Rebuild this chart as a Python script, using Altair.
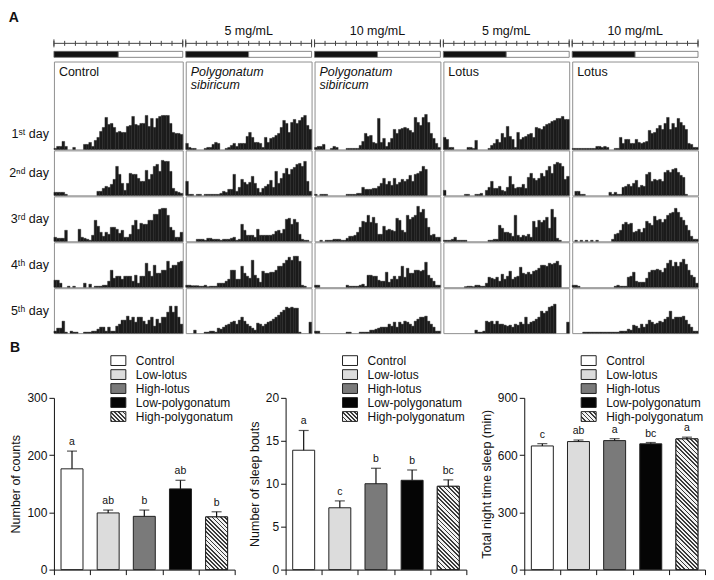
import altair as alt
import pandas as pd

FONT = "Liberation Sans"

# ---------------- Panel A: activity counts per 30-min bin (48 bins over 24 h) ----------------
control = [
    [1,3,3,8,3,0,0,2,0,0,0,5,5,7,3,9,12,18,22,32,25,26,22,17,18,17,17,23,24,33,25,24,26,26,34,23,31,22,31,33,34,34,34,26,17,16,16,15],
    [3,3,3,3,1,0,0,0,0,0,0,0,0,0,0,0,4,4,7,9,8,11,16,29,21,12,5,12,22,21,21,17,14,14,25,16,21,29,31,24,35,34,34,24,7,4,3,2],
    [4,3,3,3,11,0,0,0,0,12,4,3,2,1,6,21,15,9,5,9,7,14,14,12,8,11,4,4,7,16,21,12,18,17,17,21,21,27,27,32,33,33,26,14,11,4,4,9],
    [7,7,4,0,0,1,0,1,0,0,0,4,0,3,0,1,1,1,2,2,6,17,9,11,11,8,11,11,11,6,12,4,11,11,24,16,11,22,14,14,17,17,26,19,22,22,25,26],
    [2,5,5,12,1,0,2,1,1,0,0,1,1,1,2,2,4,6,6,2,6,2,2,7,9,13,13,17,13,16,11,16,16,12,9,13,16,7,14,10,16,16,21,27,21,27,16,9],
]
ps_5 = [
    [6,2,1,1,0,0,0,1,2,2,5,7,6,0,0,1,2,4,6,3,6,6,6,13,17,12,7,7,6,2,12,7,11,12,14,16,22,29,26,17,27,30,26,29,32,34,24,20],
    [14,1,1,0,1,1,0,1,1,1,1,1,1,2,4,3,6,6,21,4,8,16,13,11,13,19,12,7,3,7,9,11,15,8,24,12,17,22,27,21,26,28,31,32,29,34,14,4],
    [0,0,0,0,2,2,2,1,3,3,2,2,2,1,2,2,2,3,4,1,2,17,11,6,6,6,4,12,6,6,6,6,6,7,10,11,8,12,22,23,17,22,19,7,2,1,1,0],
    [2,2,1.5,1.5,1.5,1,1,2,0.5,1,1,1,4,4,4,6,8,17,17,8,8,21,14,11,9,27,12,9,5,16,14,14,15,15,17,21,21,24,27,30,27,31,31,26,2,1,0,0],
    [0,0,0,3,0,0,0,1,1,2,2,1,5,4,6,8,9,11,12,9,13,16,12,9,7,5,3,10,9,7,9,11,12,14,16,18,21,23,26,25,26,25,25,1,0,0,0,11],
]
ps_10 = [
    [2,3,3,5,0,0,1,3,2,0,0,0,1,1,1,1,1,4,8,16,13,14,7,6,31,7,11,3,7,11,20,16,20,21,22,21,19,17,32,27,24,32,35,27,16,11,6,2],
    [1,0,1,1,1,0,0,0,0,0,0,0,1,1,1,1,2,2,8,6,6,6,7,7,9,12,17,11,14,10,17,11,13,16,14,16,20,14,21,22,24,29,26,0,0,0,0,0],
    [0,0,1,0,1,1,1,2,2,2,1,1,3,5,5,6,9,14,20,19,26,19,24,18,7,7,15,11,12,11,10,23,21,11,9,26,22,24,26,35,29,32,23,14,6,7,4,4],
    [2,2,0,0,0,0,0,0,0,0,0,0,2,1,1,1,1,2,3,1,12,12,11,11,7,6,6,15,5,8,11,8,11,21,10,19,14,14,17,17,16,17,25,12,9,6,2,2],
    [2,2,0,0,0,0,0,0,0,0,0,0,1,1,0,0,0,1,1,1,1,3,3,4,5,6,6,6,9,7,11,6,11,9,12,11,9,7,12,14,16,16,17,12,9,6,2,2],
]
lotus_5 = [
    [12,10,2,2,0,0,0,0,0,2,2,1,9,0,0,0,0,1,4,6,10,7,16,12,23,13,10,2,17,10,12,13,15,16,12,22,21,20,23,25,26,28,29,31,31,33,30,30],
    [5,0,0,0,0,0,0,0,1,1,0,0,1,1,2,0,5,8,14,7,7,9,5,4,8,19,11,7,8,8,11,7,18,22,17,15,17,22,19,25,29,22,31,33,32,29,16,19],
    [1,1,1,2,4,1,1,1,1,0,0,0,0,0,0,0,0,1,1,2,2,16,13,9,9,8,5,26,6,4,6,5,7,4,20,14,21,19,21,24,13,32,24,3,1,0,0,0],
    [0,0,0,0,0,0,0,0,0.5,1,1,0.5,2,2,1,1,4,10,9,8,10,6,13,8,11,16,8,10,11,20,14,13,15,13,16,17,19,22,22,21,24,23,24,26,22,0,0,0],
    [0,0,0,0,0,0,0,0,0,0,0,0,3,1,1,2,12,11,12,9,12,9,9,8,7,8,6,9,8,11,9,16,9,11,12,14,16,22,20,22,26,27,29,0,0,0,0,11],
]
lotus_10 = [
    [1,1,1,1,1,1,1,1,1,3,3,2,3,2,0,0,1,1,12,6,10,10,6,6,10,7,6,7,8,19,16,17,21,24,20,26,32,20,26,22,31,27,24,20,6,5,2,2],
    [0,4,4,1,1,0,0,0,0,0,0,0,0,0,3,1,3,1,1,8,9,11,9,12,15,8,10,9,21,23,14,16,15,16,14,23,25,23,26,27,23,20,18,1,0,0,0,0],
    [0,1,0,1,0,1,0,1,0,1,0,0,0,0,0,2,7,8,11,17,19,17,18,9,10,12,9,13,20,18,16,25,21,22,19,22,26,28,29,33,29,24,21,16,11,5,2,2],
    [2,2,1,0,0,0,0,0,0,0,0,0,0,0,0,0,1,2,1,1,1,10,11,15,6,5,5,5,9,15,17,17,18,17,15,19,24,27,21,25,21,25,28,23,17,12,10,4],
    [0,0,0,0,1,1,1,1,1,1,1,1,1,1,1,1,1,1,2,2,2,4,3,8,7,5,9,6,9,13,11,9,10,12,11,14,16,22,14,16,16,16,17,13,9,6,2,2],
]

treatments = [control, ps_5, ps_10, lotus_5, lotus_10]
headers = [" ", "5 mg/mL", "10 mg/mL", "5 mg/mL", "10 mg/mL"]
cell_labels = ["Control", "Polygonatum\nsibiricum", "Polygonatum\nsibiricum", "Lotus", "Lotus"]
cell_italic = [False, True, True, False, False]
day_labels = ["1ˢᵗ day", "2ⁿᵈ day", "3ʳᵈ day", "4ᵗʰ day", "5ᵗʰ day"]
phase_start = [0, 12]
phase_end = [12, 24]
phase_name = ["dark", "light"]
hour_ticks = list(range(0, 25, 2))

# ---------------- Panel B ----------------
groups = ["Control", "Low-lotus", "High-lotus", "Low-polygonatum", "High-polygonatum"]
counts_mean = [176, 99, 93, 141, 92]
counts_err = [31, 5, 11, 15, 9]
counts_letter = ["a", "ab", "b", "ab", "b"]
bouts_mean = [13.9, 7.2, 10.0, 10.4, 9.7]
bouts_err = [2.3, 0.8, 1.8, 1.2, 0.75]
bouts_letter = ["a", "c", "b", "b", "bc"]
sleep_mean = [648, 671, 676, 659, 685]
sleep_err = [12, 8, 10, 7, 9]
sleep_letter = ["c", "ab", "a", "bc", "a"]
group_fill = ["#ffffff", "#dcdcdc", "#7a7a7a", "#050505", "#e8e8e8"]

# ---------------- layout / style ----------------
COL_W = [129, 126, 126, 126, 126]
ROW_H = [88, 45, 45, 45, 45]
BAR_W = 22
PLOT_W = 181
PLOT_H = 172
INK = "#111111"
BOX = "#909090"
BAR_DARK = "#1c1c1c"
LEG_TOP = -37.3   # centre of first legend row, px from plot top
LEG_STEP = 14     # px between legend rows
LEG_H = 9.8
CELL_GAP = 1      # concat spacing between actogram cells (their 1px stroke bounds add 2px)
ROW_GAP = -2      # rows share their border line


def hatch(w, h, period=3.0, frac=0.42, dark="#3a3a3a", light="#f2f2f2"):
    lam = (w + h) / (w * w + h * h)
    n = max(1, round((w + h) / 2 ** 0.5 / period))
    stops = []
    for k in range(n):
        a, b, c = k / n, (k + frac) / n, (k + 1) / n
        stops += [alt.GradientStop(color=dark, offset=a), alt.GradientStop(color=dark, offset=b),
                  alt.GradientStop(color=light, offset=b), alt.GradientStop(color=light, offset=c)]
    return alt.LinearGradient(gradient="linear", stops=stops, x1=0, y1=1, x2=lam * w, y2=1 - lam * h)


def text_layer(text, x, y, align, baseline, italic=False):
    return alt.Chart(pd.DataFrame({"t": [text]})).mark_text(
        align=align, baseline=baseline, font=FONT, fontSize=12.5,
        fontStyle="italic" if italic else "normal", lineBreak="\n", lineHeight=14, color=INK
    ).encode(x=alt.value(x), y=alt.value(y), text="t:N")


def cell(values, w, h, label=None, italic=False, day=None):
    df = pd.DataFrame({"start": [i * 0.5 for i in range(len(values))], "act": values})
    df["end"] = df["start"] + 0.5
    bars = alt.Chart(df).transform_filter("datum.act > 0").mark_rect(
        color=BAR_DARK, stroke=BAR_DARK, strokeWidth=0.4
    ).encode(
        x=alt.X("start:Q", scale=alt.Scale(domain=[0, 24], nice=False, zero=False), axis=None),
        x2="end:Q",
        y=alt.Y("act:Q", scale=alt.Scale(domain=[0, h], nice=False), axis=None),
        y2=alt.datum(0),
    )
    layers = [bars]
    if label:
        layers.append(text_layer(label, 5, 4, "left", "top", italic))
    if day:
        layers.append(text_layer(day, -5, h - 15 if h > 60 else h / 2, "right", "middle"))
    return alt.layer(*layers).properties(
        width=w, height=h, view=alt.ViewBackground(stroke=BOX, strokeWidth=1)
    )


def ld_chart(w, header):
    df = pd.DataFrame({"s": phase_start, "e": phase_end, "phase": phase_name})
    xs = alt.Scale(domain=[0, 24], nice=False, zero=False)
    bar = alt.Chart(df).mark_rect(stroke="#6a6a6a", strokeWidth=0.8).encode(
        x=alt.X("s:Q", scale=xs, axis=None),
        x2="e:Q",
        color=alt.Color("phase:N", scale=alt.Scale(domain=phase_name, range=["#111111", "#ffffff"]), legend=None),
    )
    tdf = pd.DataFrame({"h": hour_ticks})
    line = alt.Chart(pd.DataFrame({"a": [hour_ticks[0]], "b": [hour_ticks[-1]]})).mark_rule(
        color="#444", strokeWidth=1).encode(
        x=alt.X("a:Q", scale=xs, axis=None), x2="b:Q", y=alt.value(-8))
    ticks = alt.Chart(tdf).mark_rule(color="#444", strokeWidth=1).encode(
        x=alt.X("h:Q", scale=xs, axis=None), y=alt.value(-10.5), y2=alt.value(-5.5))
    ends = alt.Chart(tdf).transform_filter(f"datum.h == {hour_ticks[0]} || datum.h == {hour_ticks[-1]}").mark_rule(
        color="#444", strokeWidth=1).encode(
        x=alt.X("h:Q", scale=xs, axis=None), y=alt.value(-12), y2=alt.value(-4))
    return alt.layer(bar, line, ticks, ends).properties(
        width=w, height=6,
        title=alt.Title(header, fontSize=12.5, fontWeight="normal", font=FONT, offset=1, color=INK, anchor="middle"),
    )


ld_row = alt.hconcat(*[ld_chart(COL_W[c], headers[c]) for c in range(5)], spacing=CELL_GAP)

day_rows = []
for d in range(5):
    cells = []
    for c in range(5):
        cells.append(cell(
            treatments[c][d], COL_W[c], ROW_H[d],
            label=cell_labels[c] if d == 0 else None,
            italic=cell_italic[c],
            day=day_labels[d] if c == 0 else None,
        ))
    day_rows.append(alt.hconcat(*cells, spacing=CELL_GAP))

panel_a = alt.vconcat(
    ld_row, alt.vconcat(*day_rows, spacing=ROW_GAP), spacing=2.2,
    title=alt.Title("A", anchor="start", fontSize=14, fontWeight="bold", font=FONT, offset=0, color=INK),
)


def bar_panel(means, errs, letters, ymax, yticks, ytitle):
    df = pd.DataFrame({"group": groups, "mean": means, "err": errs, "letter": letters})
    ys = alt.Scale(domain=[0, ymax], nice=False, zero=True)
    y_axis = alt.Axis(values=yticks, title=ytitle, grid=False, tickSize=5, labelPadding=2, titlePadding=4)
    x_enc = alt.X("group:N", sort=groups, scale=alt.Scale(domain=groups, paddingInner=0, paddingOuter=0),
                  axis=alt.Axis(tickBand="extent", labels=False, title=None, tickSize=5, grid=False))
    fill_scale = alt.Scale(domain=groups, range=group_fill)
    base = alt.Chart(df).transform_calculate(upper="datum.mean + datum.err")
    layers = [
        base.mark_bar(width=BAR_W, stroke="#222", strokeWidth=1).encode(
            x=x_enc, y=alt.Y("mean:Q", scale=ys, axis=y_axis),
            fill=alt.Fill("group:N", scale=fill_scale, legend=None)),
        base.transform_filter(alt.datum.group == groups[-1]).mark_bar(
            width=BAR_W, stroke="#222", strokeWidth=1, fill=hatch(BAR_W, means[-1] / ymax * PLOT_H)
        ).encode(x=x_enc, y=alt.Y("mean:Q", scale=ys, axis=y_axis)),
        base.mark_rule(color=INK, strokeWidth=1.2).encode(
            x=x_enc, y=alt.Y("mean:Q", scale=ys, axis=y_axis), y2="upper:Q"),
        base.mark_tick(orient="horizontal", size=10, thickness=1.2, color=INK).encode(
            x=x_enc, y=alt.Y("upper:Q", scale=ys, axis=y_axis)),
        base.mark_text(baseline="bottom", dy=-4, font=FONT, fontSize=10.5, color=INK).encode(
            x=x_enc, y=alt.Y("upper:Q", scale=ys, axis=y_axis), text="letter:N"),
    ]
    # legend entries (symbol + text), one small layer per entry
    for i, g in enumerate(groups):
        cy = LEG_TOP + i * LEG_STEP
        ldf = pd.DataFrame({"group": [g]})
        sym_fill = hatch(15, LEG_H) if i == len(groups) - 1 else group_fill[i]
        layers.append(alt.Chart(ldf).mark_rect(stroke="#222", strokeWidth=1, fill=sym_fill).encode(
            x=alt.value(57), x2=alt.value(72), y=alt.value(cy - LEG_H / 2), y2=alt.value(cy + LEG_H / 2)))
        layers.append(alt.Chart(ldf).mark_text(align="left", baseline="middle", font=FONT, fontSize=12,
                                               color=INK).encode(
            x=alt.value(82), y=alt.value(cy), text="group:N"))
    return alt.layer(*layers).properties(width=PLOT_W, height=PLOT_H)


panel_b = alt.hconcat(
    bar_panel(counts_mean, counts_err, counts_letter, 300, [0, 100, 200, 300], "Number of counts"),
    bar_panel(bouts_mean, bouts_err, bouts_letter, 20, [0, 5, 10, 15, 20], "Number of sleep bouts"),
    bar_panel(sleep_mean, sleep_err, sleep_letter, 900, [0, 300, 600, 900], "Total night time sleep (min)"),
    spacing=12,
    title=alt.Title("B", anchor="start", fontSize=14, fontWeight="bold", font=FONT, offset=0, color=INK),
)

chart = alt.vconcat(panel_a, panel_b, spacing=6).properties(
    padding={"top": 3, "left": 0, "right": 0, "bottom": 0}
).configure_view(
    strokeWidth=0
).configure_axis(
    labelFont=FONT, titleFont=FONT, labelFontSize=12, titleFontSize=12.5, titleFontWeight="normal",
    labelColor=INK, titleColor=INK, domainColor=INK, tickColor=INK,
).configure_title(font=FONT)

chart.save("out.html", embed_options={"renderer": "svg", "actions": False})
